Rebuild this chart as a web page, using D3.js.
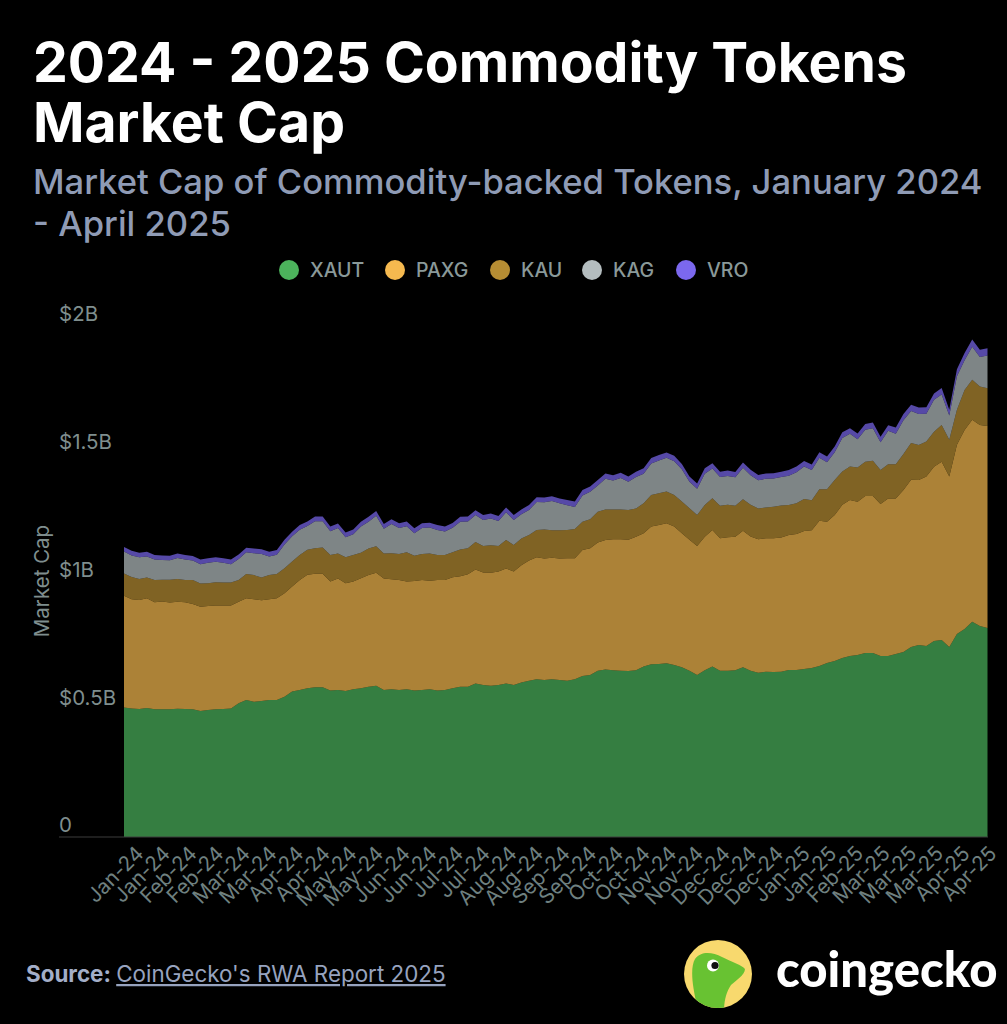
<!DOCTYPE html>
<html lang="en">
<head>
<meta charset="UTF-8">
<title>2024 - 2025 Commodity Tokens Market Cap</title>
<script src="https://cdn.jsdelivr.net/npm/d3@7"></script>
<style>
    html, body { margin: 0; padding: 0; background: #000; }
    svg { display: block; font-family: Inter, sans-serif; }
</style>
</head>
<body>
<svg id="chart" width="1007" height="1024"></svg>
<script>
// values in $M, one sample every 4 days or so
var XAUT = [507,503,501,505,500,500,500,502,501,500,493,497,500,501,503,523,536,529,532,536,536,549,569,575,582,586,586,573,575,
    571,578,582,588,592,575,578,575,578,573,575,578,573,575,582,588,588,601,595,592,595,601,595,605,612,617,614,617,614,
    612,617,630,634,651,656,653,651,650,653,667,676,677,680,673,664,651,634,653,667,651,651,653,664,651,643,647,646,647,
    654,654,658,661,669,681,689,701,708,712,720,720,708,708,716,724,744,751,748,767,771,744,795,814,842,826,818];
var PAXG = [437,428,427,429,419,422,418,419,418,412,408,407,406,405,403,398,398,402,395,395,398,405,411,431,444,444,444,427,437,
    422,422,431,437,442,437,431,431,422,429,431,425,433,431,435,433,440,446,440,442,444,450,444,459,470,478,476,476,476,
    479,474,493,496,502,506,512,514,513,522,522,539,544,548,542,525,512,505,522,535,518,522,522,535,525,522,522,523,525,
    528,532,540,540,569,553,571,599,611,600,615,615,595,617,609,634,654,646,663,682,698,667,740,779,791,787,791];
var KAU = [87,87,82,82,87,85,89,89,87,94,91,89,91,90,90,85,95,94,89,94,95,98,98,98,98,100,103,104,98,
    102,104,100,104,104,98,102,102,114,99,102,107,98,98,97,104,102,108,104,108,100,111,104,104,100,107,114,108,111,
    111,114,111,114,120,120,117,117,117,111,117,124,124,124,124,124,124,121,124,124,127,127,121,123,124,121,121,124,125,
    117,120,125,117,123,127,137,131,131,134,134,138,133,134,134,141,144,137,137,137,144,144,137,157,157,150,147];
var KAG = [86,84,85,82,80,77,76,82,80,76,76,80,80,77,72,82,85,86,92,73,76,93,99,99,93,106,103,93,99,
    78,81,102,105,119,96,114,101,102,88,101,101,98,92,96,109,105,105,102,105,98,109,98,95,98,109,106,114,105,
    96,87,103,107,103,120,113,123,110,123,116,123,129,132,132,126,103,103,123,116,113,113,112,123,116,110,112,110,112,
    115,122,127,118,123,106,109,131,128,111,125,127,109,131,119,132,125,122,109,125,119,95,131,116,129,116,129];
var VRO = [18,18,18,18,18,18,18,18,18,18,18,18,18,18,18,18,18,18,18,18,18,18,18,18,18,18,18,18,18,
    19,19,19,19,19,19,19,19,19,19,19,19,19,19,19,19,19,19,19,19,19,19,19,19,19,19,19,19,19,
    21,21,21,21,21,21,21,21,21,21,21,21,21,21,21,21,21,21,21,21,21,21,21,21,21,21,21,21,21,
    22,22,22,22,22,22,22,22,22,22,22,22,22,22,25,25,25,25,25,25,25,22,28,28,28,28,28];

var seriesNames = ["XAUT", "PAXG", "KAU", "KAG", "VRO"];
var seriesColors = ["#4cb35c", "#f5b94f", "#b68d33", "#b4bdbf", "#7b68ee"];
var seriesValues = [XAUT, PAXG, KAU, KAG, VRO];

var tickLabels = ["Jan-24","Jan-24","Feb-24","Feb-24","Mar-24","Mar-24","Apr-24","Apr-24","May-24","May-24","Jun-24","Jun-24",
    "Jul-24","Jul-24","Aug-24","Aug-24","Sep-24","Sep-24","Oct-24","Oct-24","Nov-24","Nov-24","Dec-24","Dec-24","Dec-24",
    "Jan-25","Jan-25","Feb-25","Mar-25","Mar-25","Mar-25","Apr-25","Apr-25"];
var yTicks = [0, 500, 1000, 1500, 2000];
var yTickLabels = ["0", "$0.5B", "$1B", "$1.5B", "$2B"];

var svg = d3.select("#chart");

// titles
var white = "#ffffff", slate = "#8f9bb5";
svg.append("text").attr("x", 33).attr("y", 82).attr("fill", white).attr("font-size", 55.3).attr("font-weight", 700)
    .text("2024 - 2025 Commodity Tokens");
svg.append("text").attr("x", 33).attr("y", 142).attr("fill", white).attr("font-size", 55.3).attr("font-weight", 700)
    .text("Market Cap");
svg.append("text").attr("x", 33).attr("y", 194).attr("fill", slate).attr("font-size", 34.6).attr("font-weight", 500)
    .text("Market Cap of Commodity-backed Tokens, January 2024");
svg.append("text").attr("x", 33).attr("y", 236).attr("fill", slate).attr("font-size", 34.6).attr("font-weight", 500)
    .text("- April 2025");

// legend
var legendDots = [289, 395, 500, 592, 686];
var legend = svg.append("g").selectAll("g").data(seriesNames).enter().append("g");
legend.append("circle")
    .attr("cx", function (d, i) { return legendDots[i]; })
    .attr("cy", 270).attr("r", 10)
    .attr("fill", function (d, i) { return seriesColors[i]; });
legend.append("text")
    .attr("x", function (d, i) { return legendDots[i] + 21; })
    .attr("y", 277).attr("font-size", 19.5).attr("font-weight", 500).attr("fill", "#8a9999")
    .text(function (d) { return d; });

// chart
var rows = d3.range(XAUT.length).map(function (i) {
    var r = { i: i };
    seriesNames.forEach(function (name, j) { r[name] = seriesValues[j][i]; });
    return r;
});

var x = d3.scalePoint().domain(d3.range(XAUT.length)).range([124, 987.5]);
var xTicks = d3.scalePoint().domain(d3.range(tickLabels.length)).range([135, 988]);
var y = d3.scaleLinear().domain([0, 2000]).range([837, 326]);

var stack = d3.stack().keys(seriesNames);
var area = d3.area()
    .x(function (d) { return x(d.data.i); })
    .y0(function (d) { return y(d[0]); })
    .y1(function (d) { return y(d[1]); });

svg.append("g").selectAll("path").data(stack(rows)).enter().append("path")
    .attr("d", area)
    .attr("fill", function (d, i) { return seriesColors[i]; })
    .attr("fill-opacity", 0.7);

// baseline runs under the y labels too
svg.append("line").attr("x1", 59).attr("x2", 988).attr("y1", 837).attr("y2", 837)
    .attr("stroke", "#3c3c3c").attr("stroke-width", 1);

var yAxis = svg.append("g").attr("transform", "translate(124,0)")
    .call(d3.axisLeft(y).tickValues(yTicks).tickSize(0)
        .tickFormat(function (d, i) { return yTickLabels[i]; }));
yAxis.select(".domain").remove();
yAxis.selectAll("text")
    .attr("x", -65).attr("dy", "-0.25em")
    .attr("text-anchor", "start")
    .attr("font-family", "Inter, sans-serif").attr("font-size", 20.5).attr("fill", "#7f8e8e");

var xAxis = svg.append("g").attr("transform", "translate(0,837)")
    .call(d3.axisBottom(xTicks).tickSize(0)
        .tickFormat(function (d) { return tickLabels[d]; }));
xAxis.select(".domain").remove();
xAxis.selectAll("text")
    .attr("text-anchor", "end")
    .attr("transform", "rotate(-45)")
    .attr("x", -6).attr("y", 12).attr("dy", "0.35em")
    .attr("font-family", "Inter, sans-serif").attr("font-size", 20.5).attr("fill", "#6f8080");

svg.append("text")
    .attr("transform", "translate(49,581) rotate(-90)")
    .attr("text-anchor", "middle").attr("font-size", 20.5).attr("fill", "#7f8e8e")
    .text("Market Cap");

// source
var source = svg.append("text").attr("x", 26).attr("y", 982).attr("font-size", 22.4).attr("fill", "#a3aec8");
source.append("tspan").attr("font-weight", 700).text("Source: ");
source.append("tspan").attr("text-decoration", "underline").attr("fill", "#97a3bf").text("CoinGecko's RWA Report 2025");

// logo
var logo = svg.append("g");
logo.append("clipPath").attr("id", "logoClip").append("circle").attr("cx", 718).attr("cy", 974).attr("r", 34);
logo.append("circle").attr("cx", 718).attr("cy", 974).attr("r", 34).attr("fill", "#f8d96e");
logo.append("path").attr("clip-path", "url(#logoClip)").attr("fill", "#68c232")
    .attr("d", "M698 1010 C692 985 690 968 695 959 C701 951 712 952 722 957 C732 962 742 965 745 969 C745 975 735 981 731 985 C726 992 724 1002 724 1012 Z");
logo.append("circle").attr("cx", 713).attr("cy", 965.5).attr("r", 6).attr("fill", "#fff");
logo.append("circle").attr("cx", 715).attr("cy", 965.5).attr("r", 3.6).attr("fill", "#111");
svg.append("text").attr("x", 776).attr("y", 987).attr("fill", white)
    .attr("font-family", "Lato, sans-serif").attr("font-size", 49).attr("font-weight", 900)
    .text("coingecko");
</script>
</body>
</html>
